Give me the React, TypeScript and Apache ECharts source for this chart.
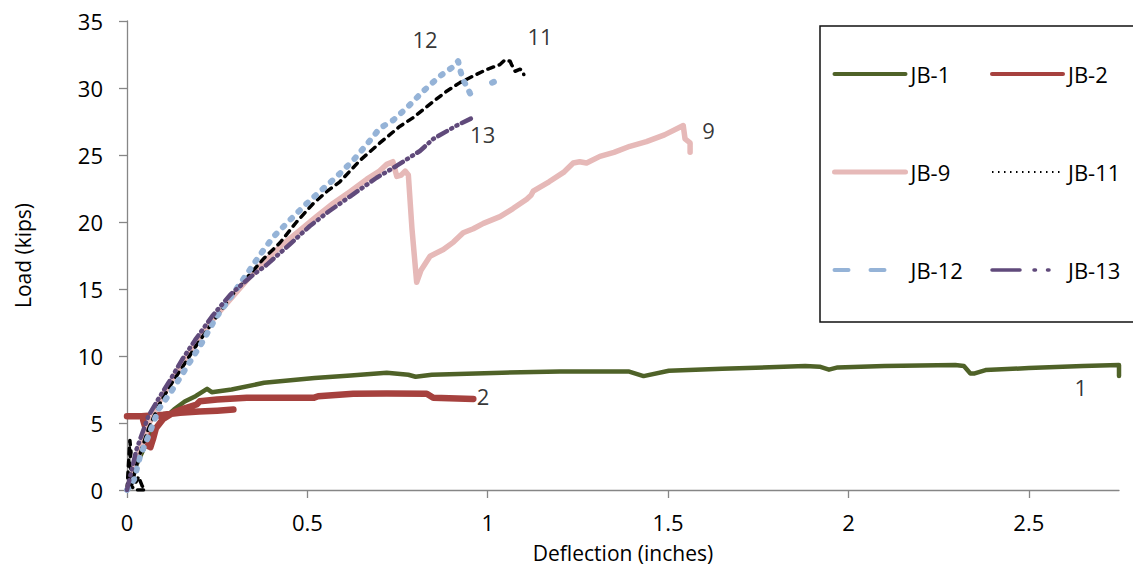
import React, { useEffect, useRef } from 'react';
import * as echarts from 'echarts';

// Deflection (inches), Load (kips); ['-','-'] marks a break in the trace
const jb1: any[] = [
  [0, 0], [0.02, 1.5], [0.05, 3.3], [0.075, 4.5], [0.1, 5.3], [0.13, 6.0], [0.16, 6.6], [0.19, 7.0],
  [0.222, 7.55], [0.235, 7.3], [0.29, 7.5], [0.38, 8.0], [0.52, 8.35], [0.62, 8.55], [0.72, 8.75],
  [0.78, 8.6], [0.8, 8.45], [0.845, 8.6], [1.04, 8.75], [1.2, 8.85], [1.314, 8.85], [1.39, 8.85],
  [1.432, 8.5], [1.502, 8.9], [1.65, 9.05], [1.88, 9.25], [1.92, 9.2], [1.946, 8.98], [1.97, 9.15],
  [2.1, 9.25], [2.296, 9.33], [2.32, 9.25], [2.338, 8.7], [2.35, 8.7], [2.38, 8.95], [2.5, 9.1],
  [2.65, 9.25], [2.75, 9.33], [2.75, 8.5],
];
const jb2: any[] = [
  [0, 5.5], [0.04, 5.5], [0.1, 5.62], [0.147, 5.76], [0.2, 5.85], [0.25, 5.92], [0.295, 6.0],
  ['-', '-'],
  [0.045, 5.2], [0.055, 4.3], [0.058, 3.3], [0.065, 3.2], [0.072, 3.8], [0.08, 4.6], [0.1, 5.3],
  [0.13, 5.8], [0.16, 6.1], [0.193, 6.38], [0.202, 6.63], [0.25, 6.75], [0.332, 6.88], [0.42, 6.88],
  [0.517, 6.88], [0.53, 7.0], [0.627, 7.18], [0.72, 7.2], [0.831, 7.18], [0.849, 6.88], [0.96, 6.8],
];
const jb9: any[] = [
  [0, 0], [0.03, 2.4], [0.06, 4.9], [0.09, 6.6], [0.12, 8.0], [0.15, 9.3], [0.19, 10.9], [0.24, 12.8],
  [0.295, 14.5], [0.34, 15.9], [0.387, 17.2], [0.43, 18.3], [0.48, 19.4], [0.525, 20.4], [0.572, 21.4],
  [0.62, 22.3], [0.665, 23.2], [0.7, 23.8], [0.72, 24.3], [0.737, 24.5], [0.743, 23.9], [0.748, 23.4],
  [0.76, 23.5], [0.771, 23.8], [0.78, 23.5], [0.79, 19.5], [0.803, 15.5], [0.815, 16.4], [0.84, 17.45],
  [0.877, 17.95], [0.905, 18.5], [0.932, 19.2], [0.96, 19.5], [0.988, 19.9], [1.034, 20.4], [1.07, 21.0],
  [1.108, 21.7], [1.12, 22.0], [1.126, 22.3], [1.17, 23.0], [1.21, 23.7], [1.237, 24.4], [1.255, 24.5],
  [1.274, 24.4], [1.311, 24.9], [1.35, 25.2], [1.394, 25.65], [1.44, 26.0], [1.49, 26.5], [1.542, 27.2],
  [1.547, 26.2], [1.561, 25.9], [1.561, 25.2],
];
const jb11: any[] = [
  [0, 0], [0.008, 3.7], [0.011, 2.8], [0.006, 2.0], [0.012, 1.4], [0.006, 0.7], [0.025, 0.6], [0.032, 1.0],
  [0.042, 0.3], [0.05, 0], [0.022, 0], [0.012, 0.3], [0.03, 2.2], [0.06, 4.6], [0.09, 6.4], [0.12, 7.8],
  [0.152, 9.1], [0.19, 10.7], [0.24, 12.6], [0.29, 14.5], [0.341, 16.1], [0.38, 17.3], [0.424, 18.45],
  [0.47, 20.0], [0.517, 21.4], [0.555, 22.3], [0.59, 23.0], [0.646, 24.6], [0.701, 25.9], [0.757, 27.15],
  [0.794, 27.8], [0.84, 28.8], [0.886, 29.76], [0.923, 30.4], [0.96, 30.9], [0.997, 31.38], [1.034, 31.75],
  [1.048, 32.1], [1.062, 32.0], [1.066, 31.75], [1.076, 31.25], [1.09, 31.4], [1.099, 31.13], [1.1, 31.0],
];
const jb12: any[] = [
  [0, 0], [0.02, 0.8], [0.036, 2.5], [0.059, 4.0], [0.087, 6.0], [0.124, 7.4], [0.152, 8.6], [0.18, 9.8],
  [0.208, 11.0], [0.245, 12.8], [0.29, 14.5], [0.332, 16.1], [0.37, 17.6], [0.406, 18.9], [0.45, 20.1],
  [0.499, 21.4], [0.54, 22.4], [0.582, 23.4], [0.627, 24.6], [0.665, 25.8], [0.701, 27.0], [0.738, 27.6],
  [0.775, 28.5], [0.821, 29.76], [0.868, 30.9], [0.905, 31.6], [0.918, 32.0], [0.925, 31.2], [0.932, 30.6],
  [0.94, 30.2], [0.951, 29.6], [0.96, 29.2], [0.965, 29.1],
  ['-', '-'],
  [1.012, 30.4], [1.034, 30.65],
];
const jb13: any[] = [
  [0, 0], [0.026, 3.0], [0.059, 5.5], [0.087, 6.8], [0.115, 8.0], [0.152, 9.7], [0.189, 11.2], [0.236, 12.97],
  [0.287, 14.6], [0.347, 16.0], [0.387, 16.8], [0.45, 18.3], [0.507, 19.7], [0.56, 20.8], [0.618, 21.9],
  [0.692, 23.3], [0.748, 24.2], [0.812, 25.3], [0.849, 26.2], [0.914, 27.2], [0.956, 27.75],
];

const xTicks = [0, 0.5, 1, 1.5, 2, 2.5];
const curveLabels = [
  { name: '12', x: 0.826, y: 33.67 },
  { name: '11', x: 1.145, y: 33.9 },
  { name: '13', x: 0.986, y: 26.6 },
  { name: '9', x: 1.612, y: 26.85 },
  { name: '2', x: 0.987, y: 6.98 },
  { name: '1', x: 2.644, y: 7.65 },
];

const FONT = 'Open Sans';
const FS = 22;

export default function App() {
  const ref = useRef<HTMLDivElement>(null);
  useEffect(() => {
    document.body.style.margin = '0';
    const chart = echarts.init(ref.current!, null, { renderer: 'svg' });
    const axisColor = '#868686';
    const legendText = { fontSize: FS, color: '#000', fontFamily: FONT, lineHeight: 22 };
    const hiddenSymbol = { color: 'rgba(0,0,0,0)', borderColor: 'rgba(0,0,0,0)', borderWidth: 0 };
    chart.setOption({
      animation: false,
      textStyle: { fontFamily: FONT },
      grid: { left: 127, right: 14, top: 21, bottom: 77.5, containLabel: false },
      xAxis: {
        type: 'value', min: 0, max: 2.75, interval: 0.5,
        name: 'Deflection (inches)', nameLocation: 'middle', nameGap: 52,
        nameTextStyle: { fontSize: 21, color: '#000', fontFamily: FONT, lineHeight: 21 },
        axisLine: { show: true, lineStyle: { color: axisColor, width: 1.3 } },
        axisTick: { show: true, length: 8, customValues: xTicks, lineStyle: { color: axisColor, width: 1.3 } },
        axisLabel: { customValues: xTicks, fontSize: FS, color: '#000', margin: 21, fontFamily: FONT, lineHeight: 22 },
        splitLine: { show: false },
      },
      yAxis: {
        type: 'value', min: 0, max: 35, interval: 5,
        name: 'Load (kips)', nameLocation: 'middle', nameGap: 94,
        nameTextStyle: { fontSize: 21, color: '#000', fontFamily: FONT, lineHeight: 21 },
        axisLine: { show: true, lineStyle: { color: axisColor, width: 1.3 } },
        axisTick: { show: true, length: 8, lineStyle: { color: axisColor, width: 1.3 } },
        axisLabel: { fontSize: FS, color: '#000', margin: 24, fontFamily: FONT, lineHeight: 22 },
        splitLine: { show: false },
      },
      legend: [
        {
          orient: 'vertical', left: 832, top: 63, padding: 0, itemWidth: 71, itemHeight: 14, itemGap: 76,
          selectedMode: false, textStyle: legendText, itemStyle: hiddenSymbol,
          data: [
            { name: 'JB-1', lineStyle: { width: 4, type: 'solid', cap: 'round' } },
            { name: 'JB-9', lineStyle: { width: 5, type: 'solid', cap: 'round' } },
            { name: 'JB-12', lineStyle: { width: 4, type: [14, 22], cap: 'round' } },
          ],
        },
        {
          orient: 'vertical', left: 990, top: 63, padding: 0, itemWidth: 71, itemHeight: 14, itemGap: 76,
          selectedMode: false, textStyle: legendText, itemStyle: hiddenSymbol,
          data: [
            { name: 'JB-2', lineStyle: { width: 4, type: 'solid', cap: 'round' } },
            { name: 'JB-11', lineStyle: { width: 2, type: [1.5, 4.5], cap: 'butt' } },
            { name: 'JB-13', lineStyle: { width: 3.5, type: [28, 14, 1.5, 12, 1.5, 14], cap: 'round' } },
          ],
        },
      ],
      graphic: [
        { type: 'rect', shape: { x: 820, y: 26, width: 340, height: 296 }, style: { fill: 'none', stroke: '#111', lineWidth: 1.5 }, z: 10 },
      ],
      series: [
        { name: 'JB-1', type: 'line', data: jb1, symbol: 'none', color: '#4F6228', lineStyle: { width: 4.5, color: '#4F6228', join: 'round', cap: 'round' } },
        { name: 'JB-2', type: 'line', data: jb2, symbol: 'none', color: '#A6413E', connectNulls: false, lineStyle: { width: 6.5, color: '#A6413E', join: 'round', cap: 'round' } },
        { name: 'JB-9', type: 'line', data: jb9, symbol: 'none', color: '#E6B9B8', lineStyle: { width: 5.5, color: '#E6B9B8', join: 'round', cap: 'round' } },
        { name: 'JB-11', type: 'line', data: jb11, symbol: 'none', color: '#000', lineStyle: { width: 3.5, color: '#000', type: [6, 6], join: 'round', cap: 'round' } },
        { name: 'JB-12', type: 'line', data: jb12, symbol: 'none', color: '#95B3D7', connectNulls: false, lineStyle: { width: 6, color: '#95B3D7', type: [2, 9], join: 'round', cap: 'round' } },
        { name: 'JB-13', type: 'line', data: jb13, symbol: 'none', color: '#604A7B', lineStyle: { width: 4.5, color: '#604A7B', type: [10, 5, 1, 5, 1, 5], join: 'round', cap: 'round' } },
        {
          name: 'labels', type: 'scatter', symbolSize: 0, silent: true,
          data: curveLabels.map((l) => ({ name: l.name, value: [l.x, l.y] })),
          label: { show: true, position: 'inside', formatter: '{b}', fontSize: FS, color: '#000', fontFamily: FONT, lineHeight: 22 },
        },
      ],
    });
    return () => chart.dispose();
  }, []);
  return <div ref={ref} style={{ width: 1133, height: 568 }} />;
}
